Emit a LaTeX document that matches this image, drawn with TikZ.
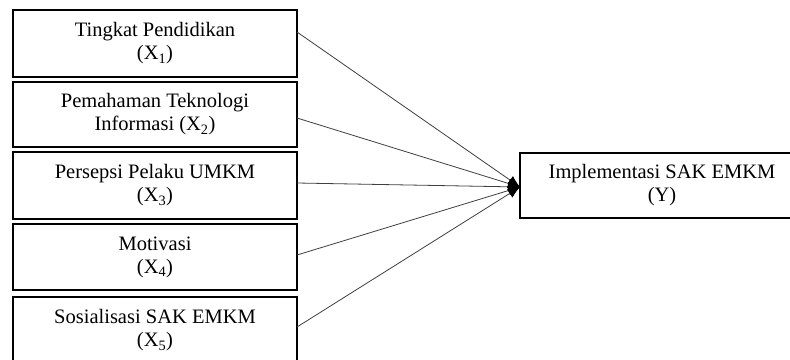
\documentclass[tikz,border=0pt]{standalone}
\usepackage{fontspec}
\setmainfont{Liberation Serif}
\usetikzlibrary{arrows.meta}
\newcommand\xsub[1]{\textsubscript{#1}}
\begin{document}
\begin{tikzpicture}[x=1pt,y=-1pt,
  varbox/.style={draw=black,line width=1.6pt,minimum width=284pt,inner sep=0pt,outer sep=0pt,
    align=center,font=\fontsize{20.5}{23}\selectfont},
  link/.style={draw=black!75,line width=0.8pt,-{Latex[length=12pt,width=10pt,black]}}]
\useasboundingbox (0,0) rectangle (790,359);
\clip (0,0) rectangle (790,359);
\fill[white] (0,0) rectangle (790,359);
\node[varbox,minimum height=67pt] (x1) at (155,43.5) {Tingkat Pendidikan\\(X\xsub{1})};
\node[varbox,minimum height=65pt] (x2) at (155,114.5) {Pemahaman Teknologi\\Informasi (X\xsub{2})};
\node[varbox,minimum height=67pt] (x3) at (155,185.5) {Persepsi Pelaku UMKM\\(X\xsub{3})};
\node[varbox,minimum height=66pt] (x4) at (155,257) {Motivasi\\(X\xsub{4})};
\node[varbox,minimum height=67pt] (x5) at (155,330.5) {Sosialisasi SAK EMKM\\(X\xsub{5})};
\node[varbox,minimum height=65pt] (y) at (662,185.5) {Implementasi SAK EMKM\\(Y)};
\draw[link] ([yshift=11.5pt]x1.east) -- ([yshift=-1.5pt]y.west);
\draw[link] ([yshift=-3.5pt]x2.east) -- ([yshift=-1.5pt]y.west);
\draw[link] ([yshift=2.5pt]x3.east) -- ([yshift=-1.5pt]y.west);
\draw[link] ([yshift=2pt]x4.east) -- ([yshift=-1.5pt]y.west);
\draw[link] ([yshift=3.5pt]x5.east) -- ([yshift=-1.5pt]y.west);
\end{tikzpicture}
\end{document}
